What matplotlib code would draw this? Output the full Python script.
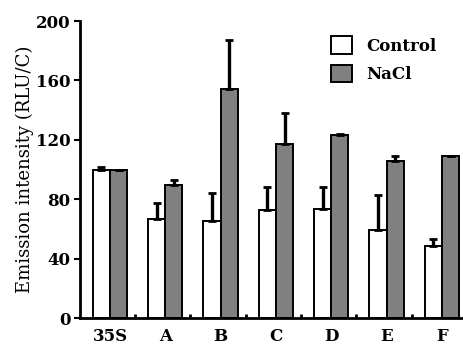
import matplotlib
matplotlib.use("Agg")
import matplotlib.pyplot as plt
import numpy as np

categories = ["35S", "A", "B", "C", "D", "E", "F"]
control = [100, 66.7, 65.5, 72.5, 73.4, 59.5, 48.5]
control_err = [1.5, 10.5, 19, 15.5, 14.5, 23.5, 5]
nacl = [100, 89.8, 154, 117, 123, 106, 109]
nacl_err = [0, 3, 33.5, 21, 1.2, 3.2, 0]
yticks = [0, 40, 80, 120, 160, 200]

plt.rcParams['font.family'] = ['DejaVu Serif']

fig = plt.figure(figsize=(4.63, 3.5), dpi=100)
ax = fig.add_axes([0.173, 0.0914, 0.827, 0.8486])

x = np.arange(len(categories))
w = 0.31
ax.bar(x - w/2, control, w, color='white', edgecolor='black', linewidth=1.4,
       yerr=[np.zeros(len(x)), control_err], error_kw=dict(ecolor='black', elinewidth=2.4, capsize=3, capthick=2), label='Control', zorder=2)
ax.bar(x + w/2, nacl, w, color='#808080', edgecolor='black', linewidth=1.4,
       yerr=[np.zeros(len(x)), nacl_err], error_kw=dict(ecolor='black', elinewidth=2.4, capsize=3, capthick=2), label='NaCl', zorder=2)

ax.set_xlim(-0.54, len(x) - 1 + 0.38)
ax.set_ylim(0, 200)
ax.set_yticks(yticks)
ax.set_yticklabels([str(v) for v in yticks], fontsize=12, fontweight='bold')
ax.set_xticks(x)
ax.set_xticklabels(categories, fontsize=12, fontweight='bold')
ax.tick_params(axis='x', length=0, pad=7)
ax.set_xticks(x[1:] - 0.55, minor=True)
ax.tick_params(axis='x', which='minor', direction='in', length=3, width=2)
ax.tick_params(axis='y', direction='out', length=4, width=1.5, pad=3)
for s in ['top', 'right']:
    ax.spines[s].set_visible(False)
for s in ['left', 'bottom']:
    ax.spines[s].set_linewidth(2)
ax.set_ylabel("Emission intensity (RLU/C)", fontsize=13, labelpad=1)

leg = fig.legend(*ax.get_legend_handles_labels(), loc='upper left', bbox_to_anchor=(0.715, 0.897),
                 frameon=False, borderpad=0, borderaxespad=0,
                 prop=dict(size=12, weight='bold'), handlelength=1.26, handleheight=1.26,
                 handletextpad=0.84, labelspacing=0.6)

fig.savefig("out.png", dpi=100)
